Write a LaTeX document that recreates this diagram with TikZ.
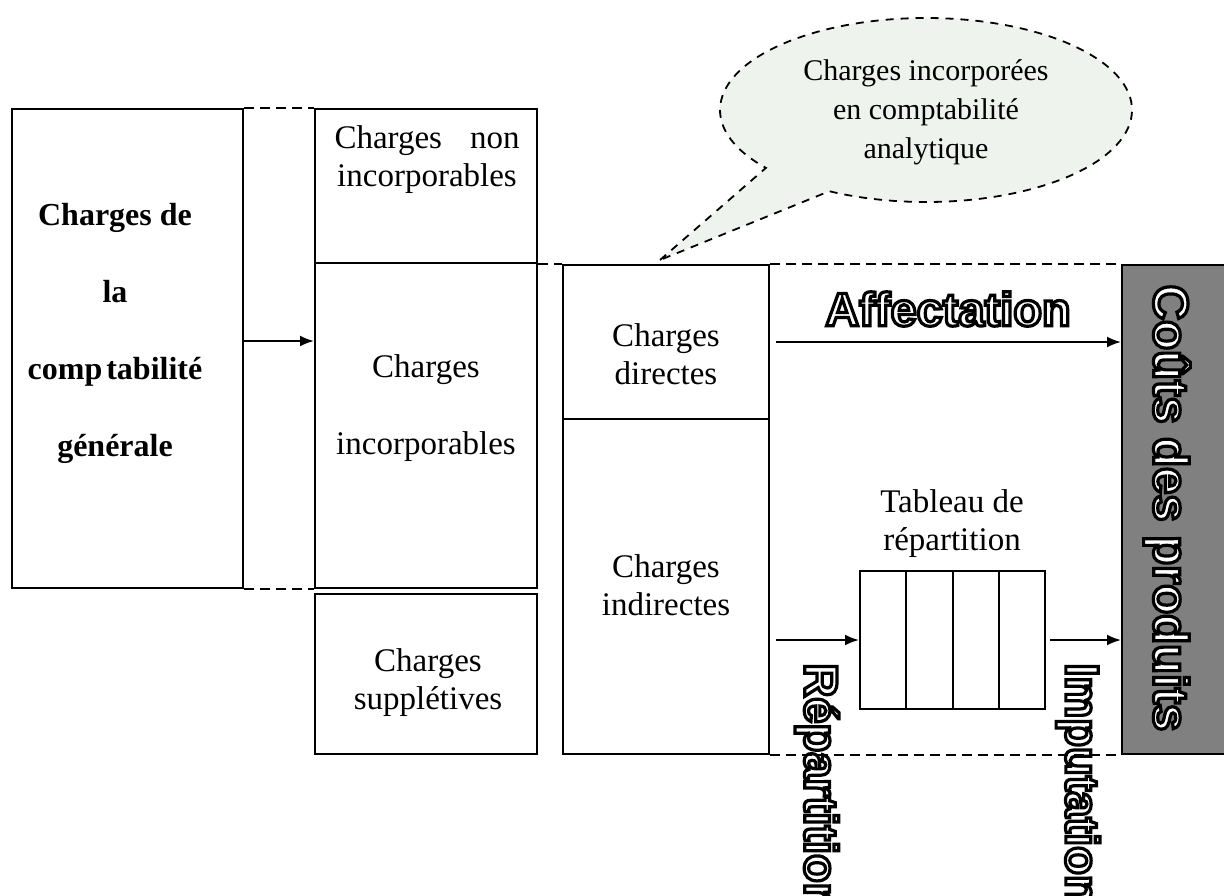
\documentclass[tikz,border=0pt]{standalone}
\usepackage{fontspec}
\setmainfont{Liberation Serif}
\newfontfamily\outfont{Liberation Sans}
\newcommand{\outlinetext}[1]{\special{pdf:literal direct 0 0 0 RG 1.6 w 2 Tr}#1\special{pdf:literal direct 0 Tr}}
\usetikzlibrary{arrows.meta,fit,calc}
\definecolor{bubblefill}{HTML}{EEF3EE}
\definecolor{coutgray}{HTML}{808080}
\tikzset{
  box/.style={draw=black, line width=1pt, inner sep=0pt},
  txt/.style={font=\fontsize{16.5}{19}\selectfont, align=center, inner sep=0pt},
  wide/.style={font=\fontsize{16.5}{38.5}\selectfont, align=center, inner sep=0pt},
  boldtxt/.style={font=\bfseries\fontsize{16}{38.5}\selectfont, align=center, inner sep=0pt},
  bubtxt/.style={font=\fontsize{15}{19.5}\selectfont, align=center, inner sep=0pt},
  outl/.style={font=\outfont\bfseries\fontsize{23.5}{24}\selectfont, text=white, inner sep=0pt},
  arr/.style={line width=1pt, -{Latex[length=7pt,width=5.5pt]}},
  dashline/.style={line width=1pt, dash pattern=on 5pt off 3pt},
  bubble/.style={draw=black, line width=0.9pt, fill=bubblefill, dash pattern=on 4pt off 3.5pt}
}
\begin{document}
\begin{tikzpicture}[x=0.5pt, y=-0.5pt]
\clip (0,0) rectangle (1224,895);

% speech bubble
\coordinate (bc) at (926,110);
\coordinate (tip) at (660,260);
\draw[bubble] (tip) -- ($(bc)+(141:206 and 92)$)
  arc[start angle=141, end angle=478, x radius=206, y radius=92] -- cycle;
\node[bubtxt] (bub) at (926,112) {Charges incorporées\\en comptabilité\\analytique};

% boxes
\node[box, fit={(12,109) (243,588)}] (cg) {};
\node[box, fit={(315,109) (537,263)}] (cni) {};
\node[box, fit={(315,263) (537,588)}] (cinc) {};
\node[box, fit={(315,594) (537,754)}] (csup) {};
\node[box, fit={(563,265) (769,419)}] (cdir) {};
\node[box, fit={(563,419) (769,754)}] (cind) {};
\node[box, fill=coutgray, fit={(1122,265) (1240,754)}] (cout) {};
\node[box, fit={(860,571) (1045,709)}] (tab) {};
\foreach \f in {0.25,0.5,0.75}
  \draw[line width=1pt] ($(tab.north west)!\f!(tab.north east)$) -- ($(tab.south west)!\f!(tab.south east)$);

% texts
\node[boldtxt] (tcg) at (115,333) {Charges de\\la\\comp\kern2pt tabilité\\générale};
\node[txt] (tcni) at (427,160) {\makebox[92.5pt][s]{Charges\hfill non}\\incorporables};
\node[wide] (tcinc) at (426,408) {Charges\\incorporables};
\node[txt] (tcsup) at (428,683) {Charges\\supplétives};
\node[txt] (tcdir) at (666,354) {Charges\\directes};
\node[txt] (tcind) at (666,585) {Charges\\indirectes};
\node[txt] (ttab) at (952,524) {Tableau de\\répartition};

\node[outl] (aff) at (948,309) {\outlinetext{Affectation}};
\node[outl, rotate=-90, anchor=west] (rep) at (817,663) {\outlinetext{Répartition}};
\node[outl, rotate=-90, anchor=west] (imp) at (1078,663) {\outlinetext{Imputation}};
\node[outl, font=\outfont\bfseries\fontsize{24.5}{25}\selectfont, rotate=-90] (tcout) at (1167,508) {\outlinetext{Coûts des produits}};

% dashed links
\draw[dashline] (cg.north east) -- (cni.north west);
\draw[dashline] (cg.south east) -- (cinc.south west);
\draw[dashline] (cinc.east |- cdir.north west) -- (cdir.north west);
\draw[dashline] (cdir.north east) -- (cout.north west);
\draw[dashline] (cind.south east) -- (cout.south west);

% arrows
\coordinate (ya) at (0,341);
\draw[arr] (cg.east |- ya) -- (cinc.west |- ya);
\draw[arr] ([xshift=3pt]cdir.east) -- (cout.west |- cdir.east);
\draw[arr] ([xshift=3pt]cind.east |- tab.west) -- (tab.west);
\draw[arr] ([xshift=2pt]tab.east) -- (cout.west |- tab.east);
\end{tikzpicture}
\end{document}
